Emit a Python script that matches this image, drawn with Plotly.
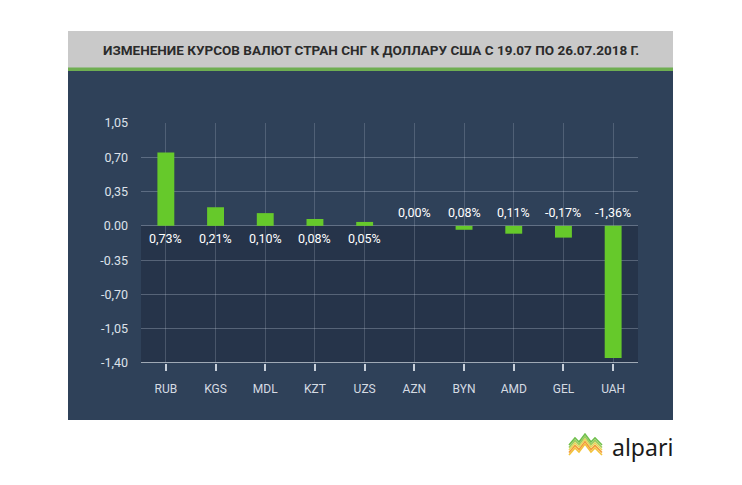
import plotly.graph_objects as go

categories = ["RUB", "KGS", "MDL", "KZT", "UZS", "AZN", "BYN", "AMD", "GEL", "UAH"]
bar_values = [0.75, 0.19, 0.13, 0.07, 0.04, 0.0, -0.04, -0.08, -0.12, -1.35]
value_labels = ["0,73%", "0,21%", "0,10%", "0,08%", "0,05%", "0,00%", "0,08%", "0,11%", "-0,17%", "-1,36%"]
label_below = [True, True, True, True, True, False, False, False, False, False]
tick_vals = [1.05, 0.70, 0.35, 0.0, -0.35, -0.70, -1.05, -1.40]
tick_text = ["1,05", "0,70", "0,35", "0.00", "-0.35", "-0,70", "-1,05", "-1,40"]
title_text = "ИЗМЕНЕНИЕ КУРСОВ ВАЛЮТ СТРАН СНГ К ДОЛЛАРУ США С 19.07 ПО 26.07.2018 Г."

OFF = 8  # page body margin offset
W, H = 742 - 2 * OFF, 485 - 2 * OFF
L, R, T, B = 141 - OFF, 638 - OFF, 123 - OFF, 363 - OFF  # plot area in px


def px(x):
    return (x - OFF - L) / (R - L)


def py(y):
    return (B - (y - OFF)) / (B - T)


fig = go.Figure()
fig.add_trace(go.Bar(
    x=categories, y=bar_values, marker_color="#66c92b", marker_line_width=0,
    width=0.34, hoverinfo="skip"
))

shapes = [
    dict(type="rect", xref="paper", yref="paper", x0=px(68), x1=px(673), y0=py(420), y1=py(71),
         fillcolor="#2f4159", line_width=0, layer="below"),
    dict(type="rect", xref="paper", yref="paper", x0=px(68), x1=px(673), y0=py(68), y1=py(31),
         fillcolor="#c9c9c9", line_width=0, layer="below"),
    dict(type="rect", xref="paper", yref="paper", x0=px(68), x1=px(673), y0=py(71), y1=py(67.5),
         fillcolor="#6fae52", line_width=0, layer="below"),
    dict(type="rect", xref="paper", yref="y", x0=0, x1=1, y0=-1.40, y1=0,
         fillcolor="#26344a", line_width=0, layer="below"),
    dict(type="line", xref="paper", yref="y", x0=0, x1=1, y0=-1.40, y1=-1.40,
         line=dict(color="#c8d0da", width=1.5)),
]

zig_colors = ["#f3c33a", "#f39a3a", "#e9d65a", "#9ccc5a", "#6fbf4c"]
for i, c in enumerate(zig_colors):
    yy = 447 - 2.5 * i + 4
    pts = [(569, yy + 4), (575, yy - 3), (579, yy + 1), (585, yy - 7), (591, yy + 1), (595, yy - 3), (602, yy + 4)]
    path = "M " + " L ".join(f"{px(a):.5f},{py(b):.5f}" for a, b in pts)
    shapes.append(dict(type="path", xref="paper", yref="paper", path=path,
                       line=dict(color=c, width=1.6)))

annotations = [
    dict(text="<b>" + title_text + "</b>", xref="paper", yref="paper", x=px(370.5), y=py(50),
         showarrow=False, font=dict(family="Liberation Sans Narrow, Roboto", size=13.5, color="#2b2b2b"),
         xanchor="center", yanchor="middle"),
    dict(text="alpari", xref="paper", yref="paper", x=px(610), y=py(447), showarrow=False,
         font=dict(family="Noto Sans, Open Sans", size=23, color="#1a1a1a"), xanchor="left", yanchor="middle"),
]
for c, lab, below in zip(categories, value_labels, label_below):
    annotations.append(dict(
        text=lab, x=c, y=0, xref="x", yref="y", showarrow=False,
        yshift=-13 if below else 13,
        font=dict(family="Roboto", size=12.5, color="#ffffff"), xanchor="center", yanchor="middle"
    ))

fig.update_layout(
    width=W, height=H,
    margin=dict(l=L, r=W - R, t=T, b=H - B, pad=0),
    paper_bgcolor="#ffffff", plot_bgcolor="rgba(0,0,0,0)",
    showlegend=False, bargap=0.66,
    shapes=shapes, annotations=annotations,
    font=dict(family="Roboto", size=12, color="#dde2ea"),
)
fig.update_xaxes(
    showgrid=True, gridcolor="rgba(200,210,225,0.22)", gridwidth=1,
    ticks="outside", ticklen=7, tickcolor="#c8d0da", tickwidth=1.5,
    tickfont=dict(family="Roboto", size=12, color="#d5dbe3"), showline=False, zeroline=False,
    ticklabelstandoff=8,
)
fig.update_yaxes(
    range=[-1.40, 1.05], tickvals=tick_vals, ticktext=tick_text,
    showgrid=True, gridcolor="rgba(200,210,225,0.30)", gridwidth=1,
    zeroline=True, zerolinecolor="rgba(200,210,225,0.35)", zerolinewidth=1,
    tickfont=dict(family="Roboto", size=12.5, color="#dde2ea"), ticks="", showline=False,
    ticklabelstandoff=12,
)

fig.write_html("out.html")
